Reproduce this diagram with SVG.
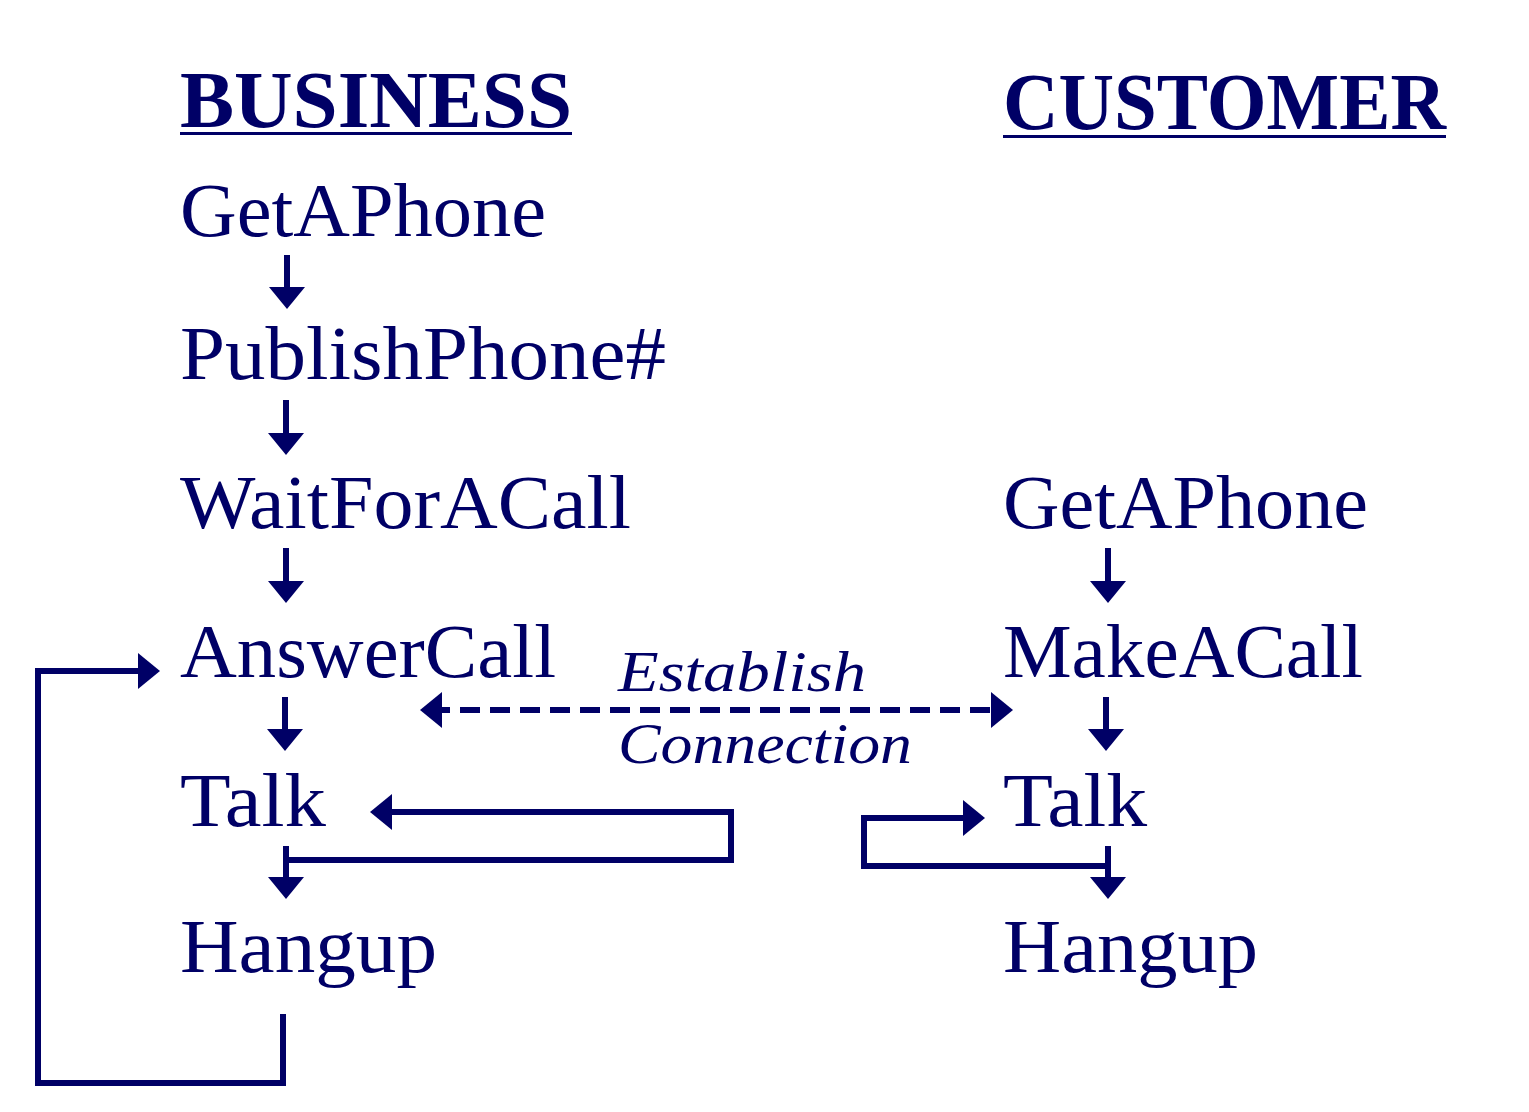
<svg xmlns="http://www.w3.org/2000/svg" width="1529" height="1112" viewBox="0 0 1529 1112">
<style>
text{fill:#000066;font-family:"Liberation Serif","Times New Roman",serif}
.n{font-size:76px}
.h{font-size:80px;font-weight:bold}
.i{font-size:58px;font-style:italic}
.c{fill:none;stroke:#000066;stroke-width:6;stroke-linejoin:miter}
.d{stroke-dasharray:20 10}
</style>
<defs>
<marker id="ah" viewBox="0 0 22 36" refX="12" refY="18" markerWidth="22" markerHeight="36" markerUnits="userSpaceOnUse" orient="auto-start-reverse">
<path d="M0,0 L22,18 L0,36 Z" fill="#000066"/>
</marker>
</defs>
<rect width="1529" height="1112" fill="#ffffff"/>
<g id="headers">
<text class="h" x="180" y="127" textLength="392" lengthAdjust="spacingAndGlyphs">BUSINESS</text>
<rect x="180" y="132" width="392" height="3" fill="#000066"/>
<text class="h" x="1003" y="129" textLength="443" lengthAdjust="spacingAndGlyphs">CUSTOMER</text>
<rect x="1003" y="135" width="443" height="3" fill="#000066"/>
</g>
<g id="b-getaphone"><text class="n" x="180" y="236" textLength="366" lengthAdjust="spacingAndGlyphs">GetAPhone</text></g>
<g id="b-publish"><text class="n" x="180" y="379" textLength="486" lengthAdjust="spacingAndGlyphs">PublishPhone#</text></g>
<g id="b-wait"><text class="n" x="180" y="528" textLength="451" lengthAdjust="spacingAndGlyphs">WaitForACall</text></g>
<g id="b-answer"><text class="n" x="180" y="677" textLength="376" lengthAdjust="spacingAndGlyphs">AnswerCall</text></g>
<g id="b-talk"><text class="n" x="180" y="826" textLength="146" lengthAdjust="spacingAndGlyphs">Talk</text></g>
<g id="b-hangup"><text class="n" x="180" y="972" textLength="257" lengthAdjust="spacingAndGlyphs">Hangup</text></g>
<g id="c-getaphone"><text class="n" x="1003" y="528" textLength="365" lengthAdjust="spacingAndGlyphs">GetAPhone</text></g>
<g id="c-makeacall"><text class="n" x="1003" y="677" textLength="360" lengthAdjust="spacingAndGlyphs">MakeACall</text></g>
<g id="c-talk"><text class="n" x="1003" y="826" textLength="144" lengthAdjust="spacingAndGlyphs">Talk</text></g>
<g id="c-hangup"><text class="n" x="1003" y="972" textLength="255" lengthAdjust="spacingAndGlyphs">Hangup</text></g>
<g id="label-establish">
<text class="i" x="618" y="691" textLength="248" lengthAdjust="spacingAndGlyphs">Establish</text>
<text class="i" x="618" y="763" textLength="294" lengthAdjust="spacingAndGlyphs">Connection</text>
</g>
<g id="connectors">
<path class="c" d="M287,255 V299" marker-end="url(#ah)"/>
<path class="c" d="M286,400 V445" marker-end="url(#ah)"/>
<path class="c" d="M286,548 V593" marker-end="url(#ah)"/>
<path class="c" d="M285,697 V741" marker-end="url(#ah)"/>
<path class="c" d="M286,846 V889" marker-end="url(#ah)"/>
<path class="c" d="M1108,548 V593" marker-end="url(#ah)"/>
<path class="c" d="M1106,697 V741" marker-end="url(#ah)"/>
<path class="c" d="M1108,846 V889" marker-end="url(#ah)"/>
<path class="c d" d="M430,710 H1003" marker-start="url(#ah)" marker-end="url(#ah)"/>
<path class="c" d="M286,860 H731 V812 H380" marker-end="url(#ah)"/>
<path class="c" d="M1108,866 H864 V818 H975" marker-end="url(#ah)"/>
<path class="c" d="M283,1014 V1083 H38 V671 H150" marker-end="url(#ah)"/>
</g>
</svg>
